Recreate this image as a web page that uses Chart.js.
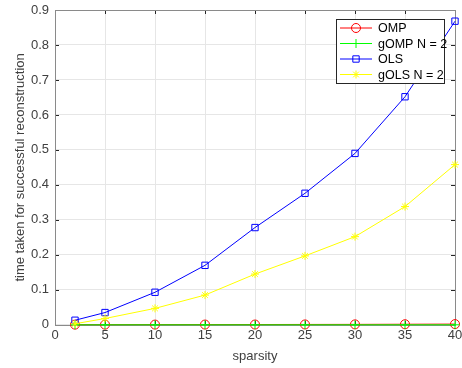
<!DOCTYPE html>
<html>
<head>
<meta charset="utf-8">
<script src="https://cdn.jsdelivr.net/npm/chart.js@4/dist/chart.umd.min.js"></script>
<style>
  html, body { margin: 0; padding: 0; background: #fff; }
  #wrap { width: 462px; height: 368px; }
</style>
</head>
<body>
<div id="wrap"><canvas id="chart"></canvas></div>
<script>
  const sparsity = [2, 5, 10, 15, 20, 25, 30, 35, 40];
  const ompTime = [0.0005, 0.0005, 0.0006, 0.0007, 0.0008, 0.001, 0.0012, 0.0016, 0.002];
  const gompTime = [0, 0, 0, 0, 0, 0, 0, 0, 0];
  const olsTime = [0.013, 0.035, 0.093, 0.17, 0.278, 0.376, 0.49, 0.652, 0.868];
  const golsTime = [0.003, 0.018, 0.047, 0.085, 0.145, 0.197, 0.252, 0.338, 0.458];
  const seriesNames = ["OMP", "gOMP N = 2", "OLS", "gOLS N = 2"];

  const FONT = "'Liberation Sans', Arial, sans-serif";
  const AXIS = "#404040";

  function toPoints(values) {
    return sparsity.map((s, i) => ({ x: s, y: values[i] }));
  }

  // box + inner ticks, MATLAB style (under the data)
  const boxPlugin = {
    id: "box",
    beforeDatasetsDraw(chart) {
      const { ctx, chartArea: a, scales } = chart;
      ctx.save();
      ctx.strokeStyle = "#262626";
      ctx.lineWidth = 1;
      ctx.beginPath();
      scales.x.ticks.forEach((t) => {
        const px = Math.round(scales.x.getPixelForValue(t.value)) + 0.5;
        ctx.moveTo(px, a.bottom); ctx.lineTo(px, a.bottom - 4);
        ctx.moveTo(px, a.top); ctx.lineTo(px, a.top + 4);
      });
      scales.y.ticks.forEach((t) => {
        const py = Math.round(scales.y.getPixelForValue(t.value)) + 0.5;
        ctx.moveTo(a.left, py); ctx.lineTo(a.left + 4, py);
        ctx.moveTo(a.right, py); ctx.lineTo(a.right - 4, py);
      });
      ctx.stroke();
      ctx.strokeStyle = "#8a8a8a";
      ctx.strokeRect(Math.round(a.left) + 0.5, Math.round(a.top) + 0.5,
        Math.round(a.right - a.left), Math.round(a.bottom - a.top));
      ctx.restore();
    }
  };

  // legend box in the upper right corner
  const legendPlugin = {
    id: "boxLegend",
    afterDraw(chart) {
      const { ctx, chartArea: a } = chart;
      const w = 108, rowH = 15.5;
      const h = 64;
      const x0 = a.right - w - 11, y0 = a.top + 9;
      ctx.save();
      ctx.fillStyle = "#fff";
      ctx.fillRect(x0, y0, w, h);
      ctx.strokeStyle = "#262626";
      ctx.lineWidth = 1;
      ctx.strokeRect(x0 + 0.5, y0 + 0.5, w, h);
      ctx.textBaseline = "middle";
      chart.data.datasets.forEach((ds, i) => {
        const cy = y0 + 9 + i * rowH;
        ctx.strokeStyle = ds.borderColor;
        ctx.lineWidth = 1;
        ctx.beginPath();
        ctx.moveTo(x0 + 4, cy); ctx.lineTo(x0 + 36, cy);
        ctx.stroke();
        ctx.fillStyle = ds.pointStyle === "star" ? ds.borderColor : "rgba(0,0,0,0)";
        Chart.helpers.drawPoint(ctx, {
          pointStyle: ds.pointStyle,
          radius: ds.pointRadius,
          borderWidth: 1
        }, x0 + 20, cy);
        ctx.font = "12.5px " + FONT;
        ctx.fillStyle = "#000";
        ctx.fillText(ds.label, x0 + 42, cy + 1);
      });
      ctx.restore();
    }
  };

  const datasets = [
    { label: seriesNames[0], data: toPoints(ompTime), borderColor: "#ff0000",
      pointStyle: "circle", pointRadius: 4.5, order: 4 },
    { label: seriesNames[1], data: toPoints(gompTime), borderColor: "#00ff00",
      pointStyle: "cross", pointRadius: 4.5, order: 3 },
    { label: seriesNames[2], data: toPoints(olsTime), borderColor: "#0000ff",
      pointStyle: "rect", pointRadius: 4.5, order: 2 },
    { label: seriesNames[3], data: toPoints(golsTime), borderColor: "#ffff00",
      pointStyle: "star", pointRadius: 4, order: 1 }
  ].map((d) => Object.assign(d, {
    borderWidth: 1, pointBorderWidth: 1, tension: 0, fill: false, clip: false,
    backgroundColor: "rgba(0,0,0,0)",
    pointBackgroundColor: "rgba(0,0,0,0)", pointHoverRadius: d.pointRadius
  }));

  new Chart(document.getElementById("chart"), {
    type: "line",
    data: { datasets },
    options: {
      responsive: true,
      maintainAspectRatio: false,
      animation: false,
      events: [],
      layout: { padding: { left: 13, right: 7, top: 10, bottom: 2 } },
      plugins: { legend: { display: false }, tooltip: { enabled: false } },
      scales: {
        x: {
          type: "linear", min: 0, max: 40,
          ticks: { stepSize: 5, color: AXIS, font: { family: FONT, size: 13 }, padding: 3 },
          grid: { color: "#e6e6e6", drawTicks: false },
          border: { display: false },
          title: { display: true, text: "sparsity", color: AXIS,
            font: { family: FONT, size: 13 }, padding: { top: 2, bottom: 2 } },
          afterFit(scale) { scale.paddingLeft = 0; scale.paddingRight = 0; }
        },
        y: {
          min: 0, max: 0.9,
          ticks: { stepSize: 0.1, color: AXIS, font: { family: FONT, size: 13 }, padding: 6 },
          grid: { color: "#e6e6e6", drawTicks: false },
          border: { display: false },
          title: { display: true, text: "time taken for successful reconstruction", color: AXIS,
            font: { family: FONT, size: 13 }, padding: { top: 0, bottom: 2 } },
          afterFit(scale) { scale.width = 42; scale.paddingTop = 0; scale.paddingBottom = 0; }
        }
      }
    },
    plugins: [boxPlugin, legendPlugin]
  });
</script>
</body>
</html>
